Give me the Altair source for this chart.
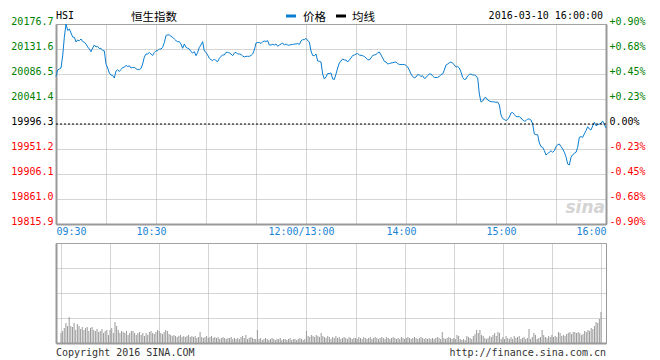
import altair as alt
import pandas as pd

# ---------------- data ----------------
prev_close = 19996.3
price_levels = [20176.7, 20131.6, 20086.5, 20041.4, 19996.3, 19951.2, 19906.1, 19861.0, 19815.9]
# trading minutes since 09:30 (lunch break removed)
time_ticks = [0, 30, 60, 90, 120, 150, 180, 210, 240, 270, 300, 330]
time_tick_values = [0, 60, 150, 210, 270, 330]
time_tick_labels = ["09:30", "10:30", "12:00/13:00", "14:00", "15:00", "16:00"]
vol_levels = [0, 25, 50, 75, 100]

prices = [
    20082.3, 20093.7, 20095.5, 20097.3, 20119.0, 20152.7, 20176.7, 20165.0, 20167.7, 20160.5,
    20153.2, 20152.7, 20144.2, 20147.8, 20146.6, 20149.6, 20145.1, 20143.7, 20140.6, 20135.2,
    20131.6, 20126.7, 20133.4, 20138.8, 20135.2, 20136.5, 20132.5, 20132.9, 20128.9, 20128.0,
    20104.5, 20097.3, 20088.3, 20084.7, 20083.8, 20079.3, 20091.9, 20094.3, 20091.0, 20094.6,
    20098.2, 20098.6, 20102.2, 20100.0, 20101.3, 20097.3, 20098.2, 20098.6, 20096.1, 20094.3,
    20094.6, 20096.4, 20104.5, 20117.2, 20122.6, 20122.6, 20125.3, 20122.6, 20119.9, 20125.3,
    20128.5, 20128.5, 20131.6, 20131.6, 20134.7, 20143.3, 20156.0, 20156.9, 20156.9, 20154.5,
    20152.7, 20149.6, 20146.6, 20144.8, 20144.8, 20140.6, 20132.9, 20140.6, 20134.7, 20132.9,
    20131.6, 20126.7, 20124.4, 20126.7, 20119.5, 20125.6, 20134.7, 20138.8, 20144.8, 20128.0,
    20125.6, 20120.8, 20114.8, 20112.3, 20110.5, 20113.6, 20110.5, 20108.7, 20114.8, 20118.4,
    20120.8, 20120.8, 20125.6, 20125.6, 20124.4, 20122.6, 20119.5, 20124.4, 20125.6, 20122.6,
    20122.6, 20121.7, 20119.0, 20117.2, 20118.4, 20118.4, 20118.4, 20119.9, 20122.6, 20129.8,
    20142.4, 20143.3, 20143.3, 20141.5, 20144.8, 20146.0, 20145.1, 20146.6, 20138.8, 20138.8,
    20140.1, 20138.8, 20140.6, 20136.5, 20138.8, 20140.6, 20142.4, 20138.8, 20140.6, 20138.8,
    20138.3, 20139.7, 20139.7, 20140.6, 20140.6, 20141.5, 20139.7, 20146.0, 20148.4, 20148.4,
    20150.9, 20146.6, 20144.2, 20128.0, 20119.9, 20119.5, 20122.6, 20109.9, 20109.4, 20108.1,
    20086.5, 20077.5, 20081.1, 20087.4, 20087.4, 20088.3, 20077.5, 20076.6, 20086.5, 20097.3,
    20106.3, 20109.9, 20113.6, 20111.8, 20111.8, 20108.1, 20111.8, 20115.4, 20119.9, 20120.8,
    20122.6, 20123.5, 20120.8, 20120.2, 20119.5, 20118.1, 20115.4, 20112.3, 20111.8, 20115.4,
    20119.9, 20120.8, 20121.7, 20124.4, 20126.2, 20120.8, 20115.4, 20109.4, 20108.1, 20104.5,
    20105.4, 20106.3, 20106.9, 20107.6, 20108.1, 20105.4, 20103.6, 20103.6, 20103.6, 20103.6,
    20102.2, 20099.1, 20093.7, 20086.5, 20081.6, 20079.8, 20081.1, 20085.6, 20084.7, 20082.0,
    20083.4, 20078.4, 20079.8, 20083.8, 20086.5, 20086.5, 20082.9, 20080.2, 20080.2, 20080.5,
    20082.0, 20085.6, 20086.5, 20093.7, 20102.7, 20104.5, 20106.9, 20108.1, 20106.3, 20102.7,
    20099.1, 20100.0, 20097.3, 20090.1, 20080.2, 20076.6, 20077.5, 20082.9, 20085.6, 20086.5,
    20084.7, 20084.7, 20082.9, 20079.3, 20050.4, 20036.0, 20037.8, 20043.2, 20044.1, 20039.6,
    20037.8, 20036.5, 20036.5, 20036.0, 20035.4, 20036.0, 20030.6, 20012.5, 20006.2, 20004.4,
    20002.6, 20004.4, 20008.9, 20016.1, 20017.0, 20013.4, 20009.8, 20009.5, 20009.5, 20007.1,
    20003.5, 20001.2, 20002.3, 20005.3, 20005.3, 20003.5, 19996.3, 19978.3, 19977.0, 19977.0,
    19962.0, 19955.4, 19954.3, 19948.1, 19940.4, 19943.1, 19945.3, 19948.1, 19945.3, 19948.1,
    19955.4, 19959.0, 19960.2, 19955.4, 19951.2, 19945.3, 19937.3, 19924.1, 19922.3, 19936.2,
    19940.9, 19943.4, 19945.3, 19954.3, 19972.3, 19973.4, 19972.3, 19978.3, 19984.2, 19991.4,
    19987.3, 19985.5, 19992.7, 19999.4, 19993.2, 19995.0, 19996.3, 19997.6, 20001.7, 19995.4,
    19989.1,
]

volumes = [
    10, 12, 15, 20, 17, 26, 17, 16, 20, 13, 19, 17, 14, 16, 13, 15, 16, 12, 15, 16, 13, 12, 14, 11, 12, 14, 10, 12, 13, 8,
    13, 15, 10, 21, 17, 13, 10, 12, 11, 10, 12, 8, 10, 12, 12, 10, 8, 10, 11, 8, 10, 7, 10, 8, 11, 12, 10, 9, 11, 13,
    12, 10, 9, 11, 13, 12, 9, 8, 7, 8, 7, 6, 7, 8, 6, 7, 6, 7, 8, 6, 7, 6, 7, 5, 6, 11, 6, 5, 6, 7,
    5, 6, 7, 5, 6, 5, 6, 4, 5, 6, 5, 4, 5, 5, 6, 4, 5, 4, 5, 4, 6, 7, 5, 8, 4, 5, 6, 5, 4, 4,
    13, 4, 5, 3, 4, 5, 4, 3, 4, 5, 4, 3, 4, 4, 5, 3, 4, 4, 3, 4, 5, 3, 4, 4, 3, 4, 5, 4, 3, 4,
    12, 7, 6, 8, 7, 6, 8, 7, 6, 10, 7, 6, 5, 7, 6, 4, 6, 5, 7, 5, 6, 4, 5, 6, 5, 4, 6, 5, 4, 5,
    5, 4, 6, 5, 4, 6, 5, 4, 5, 6, 4, 5, 6, 5, 4, 5, 6, 5, 4, 6, 5, 4, 5, 6, 5, 4, 5, 4, 6, 5,
    4, 5, 6, 5, 4, 5, 6, 5, 4, 5, 6, 5, 4, 5, 4, 5, 4, 5, 4, 5, 6, 5, 4, 11, 5, 4, 5, 6, 5, 4,
    5, 4, 8, 7, 4, 3, 4, 3, 7, 6, 5, 4, 7, 9, 13, 10, 13, 8, 7, 5, 4, 5, 7, 6, 8, 10, 7, 11, 10, 4,
    6, 4, 7, 5, 4, 6, 4, 7, 5, 6, 7, 4, 5, 6, 4, 5, 14, 4, 6, 10, 8, 4, 5, 6, 13, 8, 6, 5, 7, 6,
    8, 6, 7, 6, 11, 10, 7, 8, 7, 9, 10, 11, 9, 11, 11, 10, 11, 10, 8, 9, 12, 11, 13, 12, 15, 14, 17, 21, 20, 24,
    31,
]

header_code = "HSI"
header_name = "恒生指数"
legend_labels = ["价格", "均线"]
header_time = "2016-03-10 16:00:00"
footer_left = "Copyright 2016 SINA.COM"
footer_right = "http://finance.sina.com.cn"

# ---------------- style ----------------
BLUE = "#0a7dd0"
LABEL_BLUE = "#1a84d4"
GREEN = "#008000"
RED = "#ff0000"
FRAME = "#999999"
GRID = "#aaaaaa"
MONO = "DejaVu Sans Mono"
CJK = "Noto Sans CJK SC"
legend_colors = [BLUE, "black"]

minutes = list(range(len(prices)))
df_price = pd.DataFrame({"minute": minutes, "price": prices})
df_vol = pd.DataFrame({"minute": minutes, "volume": volumes})
df_close = pd.DataFrame({"price": [prev_close]})

x_scale = alt.Scale(domain=[0, 330], nice=False, zero=False)
y_scale = alt.Scale(domain=[min(price_levels), max(price_levels)], nice=False, zero=False)

time_expr = " : ".join(
    f"datum.value == {v} ? '{l}'" for v, l in zip(time_tick_values, time_tick_labels)
) + " : ''"

updown_color = {
    "condition": [
        {"test": f"datum.value > {prev_close + 0.05}", "value": GREEN},
        {"test": f"datum.value > {prev_close - 0.05}", "value": "black"},
    ],
    "value": RED,
}

pct_expr = (
    f"abs(datum.value - {prev_close}) < 0.01 ? '0.00%' : "
    f"(datum.value > {prev_close} ? '+' : '-') + "
    f"format(abs(datum.value - {prev_close}) / {prev_close} * 100, '.2f') + '%'"
)

common_axis = dict(ticks=False, tickSize=0, domainColor=FRAME, domainWidth=2,
                   gridColor=GRID, gridDash=[1, 1], gridWidth=1, title=None,
                   labelOverlap=False)

x_top = alt.X(
    "minute:Q", scale=x_scale,
    axis=alt.Axis(values=time_ticks, labelExpr=time_expr, labelFlush=True,
                  labelOffset={"condition": {"test": "datum.value > 0 && datum.value < 330", "value": -5}, "value": 0},
                  labelColor=LABEL_BLUE, labelFont=MONO, labelFontSize=10,
                  labelPadding=2, grid=True, **common_axis),
)

line = alt.Chart(df_price).mark_line(color=BLUE, strokeWidth=1).encode(
    x=x_top,
    y=alt.Y("price:Q", scale=y_scale,
            axis=alt.Axis(values=price_levels, format=".1f", labelColor=updown_color,
                          labelFont=MONO, labelFontSize=10, labelPadding=3, labelOffset=-3,
                          grid=True, **common_axis)),
)

close_rule = alt.Chart(df_close).mark_rule(color="black", strokeDash=[2, 2], strokeWidth=1).encode(
    y=alt.Y("price:Q",
            axis=alt.Axis(orient="right", values=price_levels, labelExpr=pct_expr,
                          labelColor=updown_color, labelFont=MONO, labelFontSize=10,
                          labelPadding=3, labelOffset=-3, grid=False, **common_axis)),
)


def text_layer(txt, x, y, font=MONO, size=10, color="black", align="left", **kw):
    return alt.Chart(pd.DataFrame({"t": [txt]})).mark_text(
        font=font, fontSize=size, color=color, align=align, baseline="alphabetic", **kw
    ).encode(x=alt.value(x), y=alt.value(y), text="t:N")


header = [
    text_layer(header_code, 0, -5),
    text_layer(header_name, 75, -3, font=CJK, size=11.5),
    text_layer(header_time, 547, -5, align="right"),
]
for i, (lab, col) in enumerate(zip(legend_labels, legend_colors)):
    header.append(
        alt.Chart(pd.DataFrame({"t": [lab]})).mark_rule(color=col, strokeWidth=3).encode(
            x=alt.value(230 + 50 * i), x2=alt.value(240 + 50 * i), y=alt.value(-8))
    )
    header.append(text_layer(lab, 247 + 49 * i, -3, font=CJK, size=11.5))

watermark = text_layer("sina", 549, 189, font="DejaVu Sans", size=17, color="#d4d4d4",
                       align="right", fontStyle="italic", fontWeight="bold")

top = alt.layer(line, close_rule, watermark, *header).resolve_axis(y="independent").properties(
    width=550, height=200)

bars = alt.Chart(df_vol).mark_bar(color=FRAME, size=1).encode(
    x=alt.X("minute:Q", scale=x_scale,
            axis=alt.Axis(values=time_ticks, labels=False, grid=True, **common_axis)),
    y=alt.Y("volume:Q", scale=alt.Scale(domain=[0, 100], nice=False),
            axis=alt.Axis(values=vol_levels, labels=False, grid=True, **common_axis)),
)

footer = [
    text_layer(footer_left, 0, 113, color="#333333"),
    text_layer(footer_right, 550, 113, color="#333333", align="right"),
]

bottom = alt.layer(bars, *footer).properties(width=550, height=100)

chart = alt.vconcat(top, bottom, spacing=5).properties(
    padding={"left": 2, "top": 2, "right": 4, "bottom": 0},
    background="white",
).configure_view(stroke=FRAME, strokeWidth=1)

chart.save("out.html", embed_options={"renderer": "svg", "actions": False})
